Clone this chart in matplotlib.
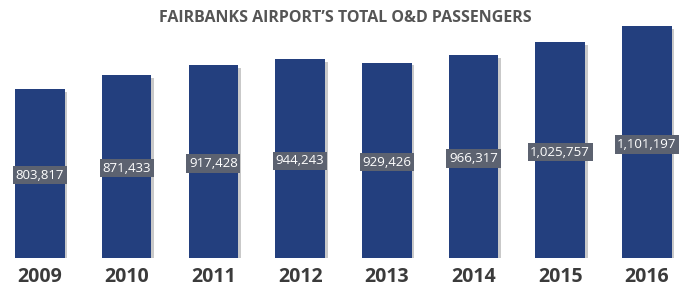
import matplotlib.pyplot as plt
import matplotlib.patheffects as pe

years = ["2009", "2010", "2011", "2012", "2013", "2014", "2015", "2016"]
passengers = [803817, 871433, 917428, 944243, 929426, 966317, 1025757, 1101197]
title = "FAIRBANKS AIRPORT\u2019S TOTAL O&D PASSENGERS"

bar_color = "#233f7e"
box_color = "#5c6270"
text_color = "#3b3b3b"

fig = plt.figure(figsize=(6.84, 2.87), dpi=100)
W, H = 684, 287
ax_bottom_px = 258
ax_top_px = 20
ax = fig.add_axes([0, (H - ax_bottom_px) / H, 1, (ax_bottom_px - ax_top_px) / H])
spacing = 86.7
x0 = 40
ax.set_xlim(-x0 / spacing, (W - x0) / spacing)
scale = passengers[0] / (258 - 89)
ax.set_ylim(0, (ax_bottom_px - ax_top_px) * scale)
ax.axis("off")

xs = list(range(len(years)))
bars = ax.bar(xs, passengers, width=0.57, color=bar_color, zorder=3)
for b in bars:
    b.set_path_effects([pe.SimplePatchShadow(offset=(2, -2), shadow_rgbFace="#888888", alpha=0.45),
                        pe.Normal()])

for x, v in zip(xs, passengers):
    ax.text(x, v * 0.49, f"{v:,}", ha="center", va="center", color="white",
            fontsize=9.5, family="Open Sans", zorder=5,
            bbox=dict(boxstyle="square,pad=0.2", fc=box_color, ec="none"))
    fig.text((x0 + x * spacing) / W, 1 - 277 / H, years[x], ha="center", va="center",
             fontsize=14, fontweight="bold", color=text_color, family="Open Sans")

fig.text(345 / W, 1 - 18 / H, title, ha="center", va="center", fontsize=11.5,
         fontweight="bold", color="#555555", family="Open Sans")

fig.savefig("out.png", dpi=100)
